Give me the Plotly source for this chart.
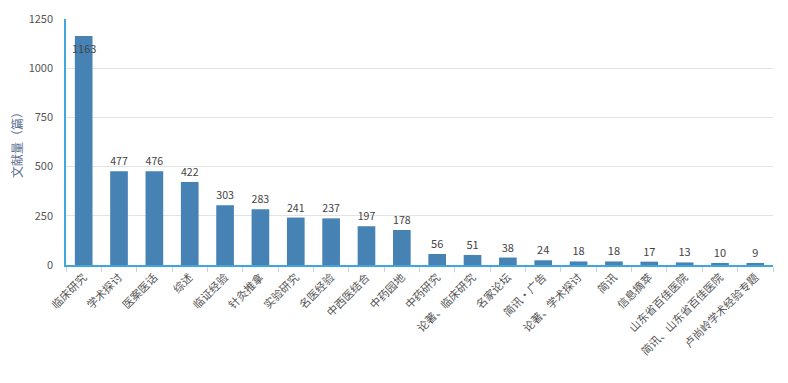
import plotly.graph_objects as go

categories = ["临床研究", "学术探讨", "医案医话", "综述", "临证经验", "针灸推拿", "实验研究", "名医经验",
              "中西医结合", "中药园地", "中药研究", "论著、临床研究", "名家论坛", "简讯·广告", "论著、学术探讨",
              "简讯", "信息摘萃", "山东省百佳医院", "简讯、山东省百佳医院", "卢尚岭学术经验专题"]
values = [1163, 477, 476, 422, 303, 283, 241, 237, 197, 178, 56, 51, 38, 24, 18, 18, 17, 13, 10, 9]
y_ticks = [0, 250, 500, 750, 1000, 1250]

font_family = "Noto Sans CJK SC, Microsoft YaHei, sans-serif"
label_font = dict(family=font_family, size=11, color="#444444")

# tallest bar shows its label inside the top of the bar; others above
texts = ["" if v == max(values) else str(v) for v in values]

fig = go.Figure(go.Bar(
    x=categories, y=values,
    marker=dict(color="#4682b4", line=dict(width=0)),
    width=0.5,
    text=texts,
    textposition="outside",
    textangle=0,
    textfont=label_font,
    cliponaxis=False,
))

imax = values.index(max(values))
fig.add_annotation(x=categories[imax], y=values[imax], text=str(values[imax]),
                   showarrow=False, yanchor="top", yshift=-2, font=label_font)

fig.update_layout(
    width=788, height=383,
    margin=dict(l=58, r=23, t=11, b=126),
    plot_bgcolor="white", paper_bgcolor="white",
    showlegend=False,
    font=dict(family=font_family, size=11, color="#555555"),
)
fig.update_xaxes(
    type="category",
    tickangle=-45,
    automargin=False,
    tickfont=dict(size=11, color="#555555"),
    showline=True, linecolor="#3fa7dc", linewidth=1.5,
    ticks="outside", tickson="boundaries", ticklen=5, tickcolor="#c8d4e0",
    showgrid=False,
)
fig.update_yaxes(
    range=[0, 1250],
    automargin=False,
    tickvals=y_ticks,
    tickfont=dict(size=11, color="#555555"),
    ticklabelstandoff=9,
    showline=True, linecolor="#3fa7dc", linewidth=1.5,
    showgrid=True, gridcolor="#e3e3e3",
    zeroline=False,
    ticks="",
    title=dict(text="文献量（篇）", font=dict(size=12, color="#5a7090"), standoff=8),
)

fig.write_html("out.html")
